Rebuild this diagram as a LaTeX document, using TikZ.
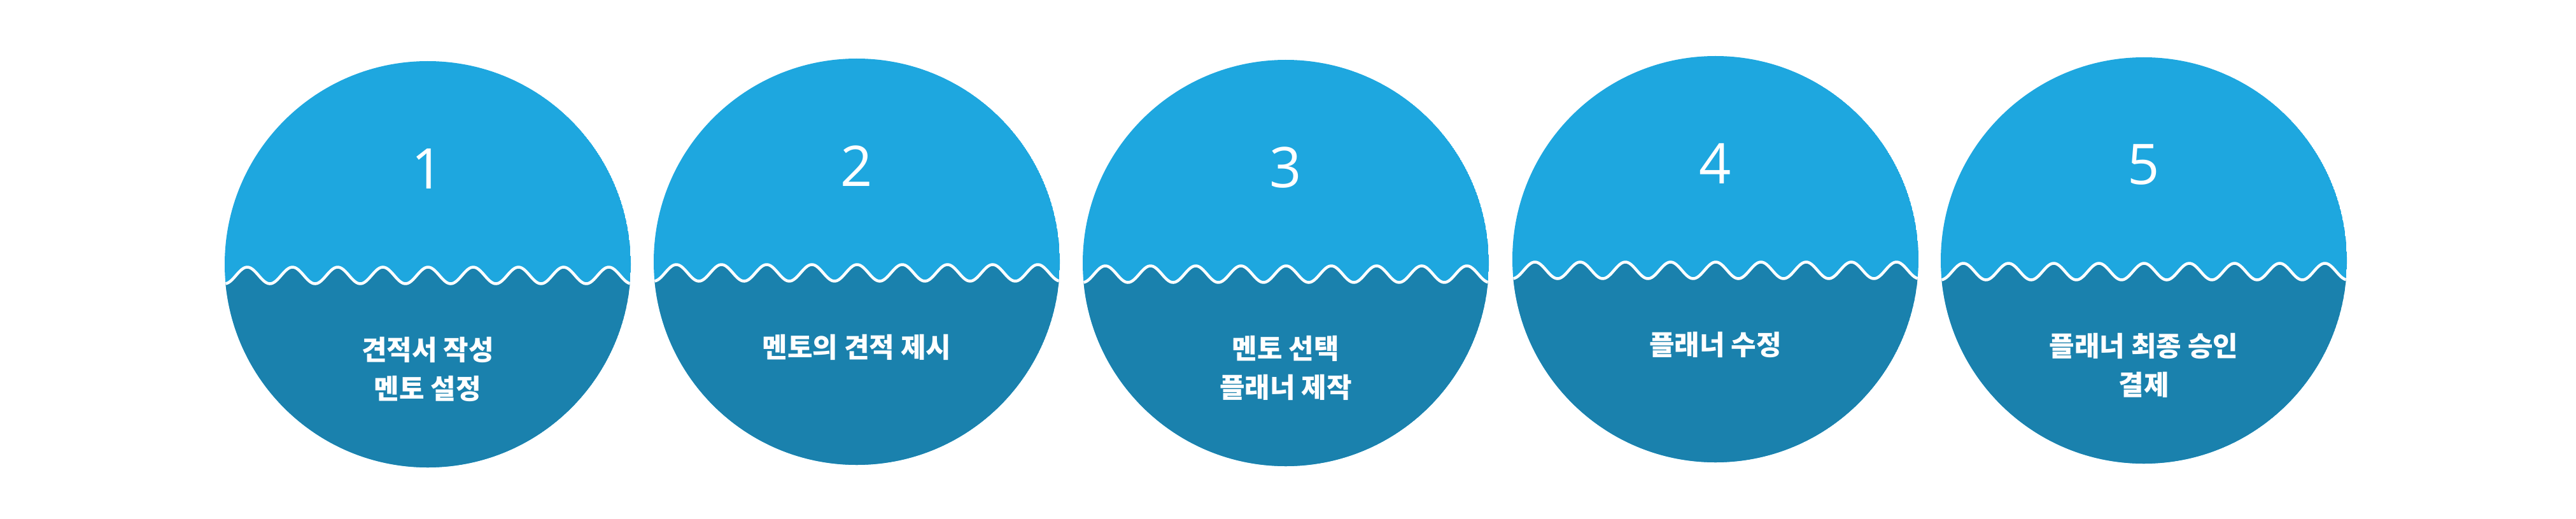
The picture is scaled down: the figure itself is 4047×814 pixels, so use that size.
\documentclass[tikz,border=0pt]{standalone}
\usepackage{fontspec}
\newfontfamily\krfont{Noto Sans CJK KR}
\newfontfamily\numfont{Open Sans}
\definecolor{topblue}{RGB}{30,167,223}
\definecolor{lowblue}{RGB}{26,129,173}
\tikzset{
  numlabel/.style={text=white, inner sep=0pt, font=\numfont\fontsize{88bp}{100bp}\selectfont},
  steplabel/.style={text=white, inner sep=0pt, align=center, anchor=north,
    font=\krfont\bfseries\fontsize{43bp}{61bp}\selectfont},
  waveline/.style={white, line width=4.5bp},
}
\begin{document}
\begin{tikzpicture}[x=1bp,y=-1bp]
\useasboundingbox (0,0) rectangle (4047,814);
\foreach \i/\cx/\cy/\txt in {
  1/672/415/{견적서 작성\\멘토 설정},
  2/1346/411/{멘토의 견적 제시},
  3/2020/413/{멘토 선택\\플래너 제작},
  4/2695/407/{플래너 수정},
  5/3368/409/{플래너 최종 승인\\결제}} {
  \begin{scope}
    \clip (\cx,\cy) circle[radius=319bp];
    \fill[topblue] (\cx,\cy) circle[radius=319bp];
    \fill[lowblue] plot[domain=-320:320,samples=260] ({\cx+\x},{\cy+17.5+13*cos((\x+319)*5.070423)})
      -- (\cx+330,\cy+330) -- (\cx-330,\cy+330) -- cycle;
    \draw[waveline] plot[domain=-320:320,samples=260] ({\cx+\x},{\cy+17.5+13*cos((\x+319)*5.070423)});
  \end{scope}
  \node[numlabel] (n\i) at (\cx,\cy-150) {\i};
  \node[steplabel] (t\i) at (\cx,\cy+114) {\txt};
}
\end{tikzpicture}
\end{document}
